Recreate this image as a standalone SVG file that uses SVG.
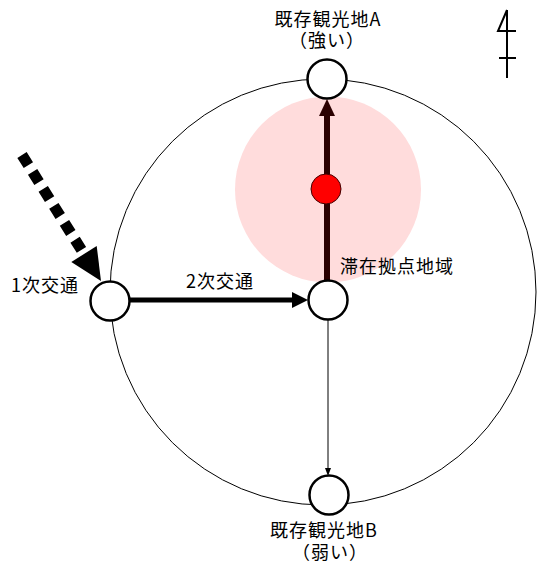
<svg xmlns="http://www.w3.org/2000/svg" width="550" height="567" viewBox="0 0 550 567">
<style>
.node{fill:#fff;stroke:#000;stroke-width:2.5}
.lbl{font-family:"Noto Sans CJK JP","Liberation Sans",sans-serif;font-size:18px;letter-spacing:1px;fill:#000}
</style>
<rect width="550" height="567" fill="#fff"/>
<g id="region">
<circle cx="323" cy="292" r="213" fill="none" stroke="#000" stroke-width="1"/>
<circle cx="328" cy="189.5" r="93" fill="#ffdcdc"/>
</g>
<g id="north" stroke="#000" stroke-width="2" fill="none">
<line x1="507" y1="10" x2="507" y2="78"/>
<polyline points="507,10 498,31 516,31"/>
<line x1="499" y1="58" x2="516" y2="58"/>
</g>
<g id="connectors">
<line x1="22" y1="155" x2="84" y2="254" stroke="#000" stroke-width="11" stroke-dasharray="12 8"/>
<polygon points="101,281 96.7,246 71.3,262" fill="#000"/>
<line x1="130" y1="300" x2="295" y2="300" stroke="#000" stroke-width="5"/>
<polygon points="308,300 292,292 292,308" fill="#000"/>
<line x1="327" y1="300" x2="327" y2="112" stroke="#2b0000" stroke-width="6"/>
<polygon points="327,99 319,116 335,116" fill="#2b0000"/>
<line x1="328" y1="320" x2="328" y2="470" stroke="#000" stroke-width="1"/>
<polygon points="328,476 325,468 331,468" fill="#000"/>
</g>
<g id="stay-point">
<circle cx="326" cy="189" r="15" fill="#ff0000" stroke="#400" stroke-width="1"/>
</g>
<g id="node-A">
<circle class="node" cx="327" cy="79" r="19.5"/>
<text class="lbl" x="328" y="26" text-anchor="middle">既存観光地A</text>
<text class="lbl" x="327" y="47" text-anchor="middle">（強い）</text>
</g>
<g id="node-primary">
<circle class="node" cx="110" cy="301" r="19.5"/>
<text class="lbl" x="11" y="292">1次交通</text>
</g>
<g id="node-center">
<circle class="node" cx="328" cy="300" r="19.5"/>
<text class="lbl" x="340" y="273">滞在拠点地域</text>
</g>
<g id="label-secondary">
<text class="lbl" x="186" y="288">2次交通</text>
</g>
<g id="node-B">
<circle class="node" cx="329" cy="495" r="19.5"/>
<text class="lbl" x="324" y="537" text-anchor="middle">既存観光地B</text>
<text class="lbl" x="330" y="559" text-anchor="middle">（弱い）</text>
</g>
</svg>
